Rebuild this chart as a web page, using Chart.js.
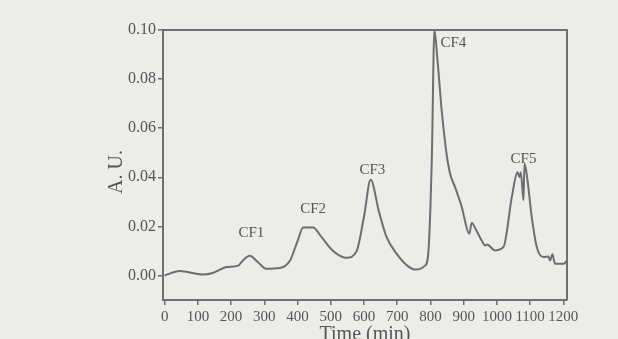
<!DOCTYPE html>
<html>
<head>
<meta charset="utf-8">
<script src="https://cdn.jsdelivr.net/npm/chart.js@4"></script>
<style>
    html, body { margin: 0; padding: 0; background: #ececea; }
    #wrap { width: 618px; height: 339px; position: relative; }
</style>
</head>
<body>
<div id="wrap"><canvas id="chart"></canvas></div>
<script>
// Time (min) and absorbance
const timeMin = [0, 45, 115, 145, 186, 221, 235, 256, 280, 306, 346, 377, 400, 417, 447, 470, 507, 548, 578, 600,
    620, 645, 668, 698, 730, 754, 784, 794, 804, 812, 821, 834, 849, 859, 874, 894, 917, 924, 938, 955,
    965, 970, 995, 1020, 1045, 1062, 1068, 1072, 1080, 1083, 1090, 1105, 1120, 1140, 1155, 1160, 1167, 1175, 1201, 1211];
const absorbance = [0, 0.0018, 0.0004, 0.001, 0.0034, 0.004, 0.006, 0.008, 0.0055, 0.0027, 0.003, 0.006, 0.014, 0.0195, 0.0195, 0.016, 0.010, 0.0072, 0.010, 0.024,
    0.039, 0.026, 0.0156, 0.0089, 0.004, 0.0024, 0.004, 0.010, 0.047, 0.10, 0.088, 0.067, 0.049, 0.0415, 0.036, 0.028, 0.017, 0.0214, 0.0184, 0.014,
    0.0122, 0.0126, 0.0102, 0.0116, 0.032, 0.042, 0.040, 0.042, 0.0306, 0.0456, 0.041, 0.0238, 0.0116, 0.0075, 0.0077, 0.0061, 0.0086, 0.0048, 0.0048, 0.0061];

const xTicks = [0, 100, 200, 300, 400, 500, 600, 700, 800, 900, 1000, 1100, 1200];
const yTicks = [0, 0.02, 0.04, 0.06, 0.08, 0.10];

// peak labels and where they sit (data units)
const peakNames = ['CF1', 'CF2', 'CF3', 'CF4', 'CF5'];
const peakX = [261, 447, 625, 869, 1080];
const peakY = [0.0173, 0.027, 0.043, 0.0946, 0.0476];

const ink = '#6e6e6e';
const serif = '"Liberation Serif", "DejaVu Serif", serif';

const points = timeMin.map((t, i) => ({ x: t, y: absorbance[i] }));

// frame on top/right, peak labels, axis titles
const extras = {
    id: 'extras',
    afterDraw(chart) {
        const ctx = chart.ctx;
        const a = chart.chartArea;
        const xs = chart.scales.x, ys = chart.scales.y;
        ctx.save();
        ctx.strokeStyle = ink;
        ctx.lineWidth = 2;
        ctx.beginPath();
        ctx.moveTo(a.left, a.top);
        ctx.lineTo(a.right, a.top);
        ctx.lineTo(a.right, a.bottom);
        ctx.stroke();

        ctx.fillStyle = '#555';
        ctx.font = '15px ' + serif;
        ctx.textAlign = 'center';
        ctx.textBaseline = 'middle';
        peakNames.forEach((n, i) => {
            ctx.fillText(n, xs.getPixelForValue(peakX[i]), ys.getPixelForValue(peakY[i]));
        });

        ctx.font = '20px ' + serif;
        ctx.fillText('Time (min)', 365, 335);
        ctx.translate(117, 172);
        ctx.rotate(-Math.PI / 2);
        ctx.fillText('A. U.', 0, 0);
        ctx.restore();
    }
};

new Chart(document.getElementById('chart'), {
    type: 'line',
    data: {
        datasets: [{
            data: points,
            borderColor: ink,
            borderWidth: 2,
            pointRadius: 0,
            cubicInterpolationMode: 'monotone',
            fill: false
        }]
    },
    options: {
        responsive: true,
        maintainAspectRatio: false,
        animation: false,
        layout: { padding: { top: 30, right: 51, bottom: 0, left: 0 } },
        plugins: { legend: { display: false }, tooltip: { enabled: false } },
        scales: {
            x: {
                type: 'linear',
                min: -5,
                max: 1211,
                afterBuildTicks: s => { s.ticks = xTicks.map(v => ({ value: v })); },
                afterFit: s => { s.height = 39; },
                grid: { drawOnChartArea: false, tickLength: 5, color: ink, lineWidth: 1.5 },
                border: { color: ink, width: 2 },
                ticks: { color: '#555', font: { family: serif, size: 15 }, padding: 3, maxRotation: 0, autoSkip: false, callback: v => String(v) }
            },
            y: {
                min: -0.01,
                max: 0.10,
                afterBuildTicks: s => { s.ticks = yTicks.map(v => ({ value: v })); },
                afterFit: s => { s.width = 163; },
                grid: { drawOnChartArea: false, tickLength: 5, color: ink, lineWidth: 1.5 },
                border: { color: ink, width: 2 },
                ticks: { color: '#555', font: { family: serif, size: 16 }, padding: 2, callback: v => v.toFixed(2) }
            }
        }
    },
    plugins: [extras]
});
</script>
</body>
</html>
